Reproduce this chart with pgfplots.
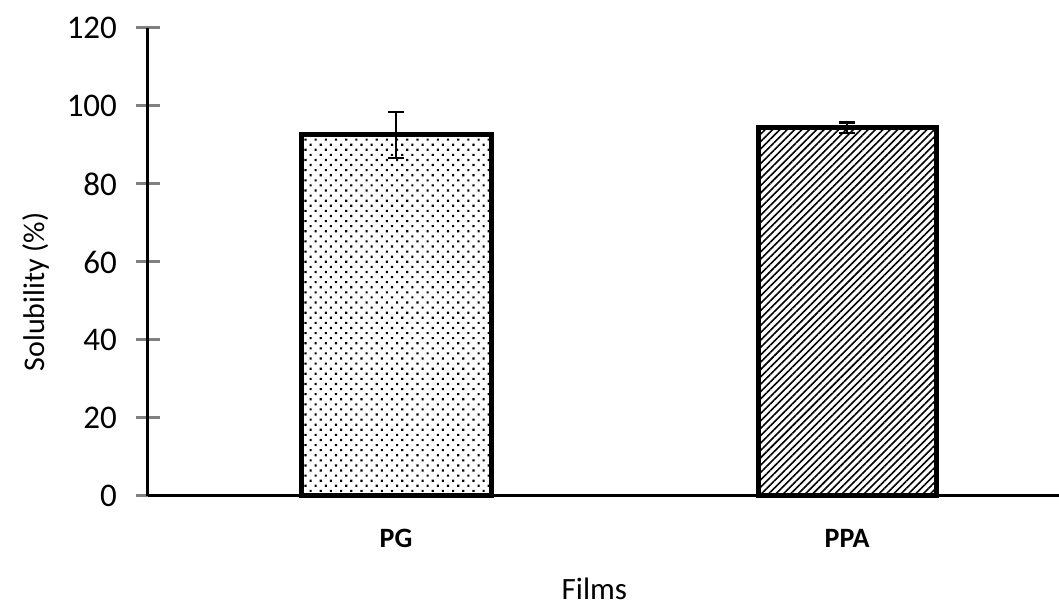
\documentclass[border=0pt]{standalone}
\usepackage{pgfplots}
\pgfplotsset{compat=1.18}
\usepackage{fontspec}
\setmainfont{Carlito}
\usetikzlibrary{patterns.meta}
\begin{document}
\begin{tikzpicture}
\useasboundingbox (-74pt,-56pt) rectangle (455.5pt,248pt);
\begin{axis}[
  at={(0,0)}, anchor=south west,
  width=455.5pt, height=234pt, scale only axis,
  xmin=0.45, xmax=2.47, ymin=0, ymax=120,
  axis lines=left, axis line style={-, line width=1.5pt},
  xtick={1,2}, xticklabels={\textbf{PG},\textbf{PPA}},
  xtick style={draw=none},
  ytick={0,20,...,120},
  ytick style={line width=1.5pt}, tick align=center,
  major tick length=12pt,
  /pgf/number format/assume math mode=true,
  yticklabel style={font=\fontsize{16.5}{19}\selectfont, xshift=-6pt},
  xticklabel style={font=\fontsize{14}{16}\selectfont, yshift=-7pt},
  ylabel={Solubility (\%)}, xlabel={Films},
  ylabel style={at={(axis description cs:-0.123,0.436)}, anchor=center, font=\fontsize{15}{18}\selectfont},
  xlabel style={at={(axis description cs:0.49,-0.198)}, anchor=center, font=\fontsize{15.5}{18}\selectfont},
  clip=false,
]
\addplot[ybar, bar shift=0pt, bar width=95pt, draw=black, line width=2.5pt,
  pattern={Dots[distance=3.6pt, angle=45, radius=0.75pt]}, pattern color=black,
  error bars/.cd, y dir=both, y explicit,
  error bar style={line width=1.3pt, black},
  error mark options={rotate=90, mark size=4pt, line width=1.3pt, black}]
  coordinates {(1,92.6) +- (0,5.9)};
\addplot[ybar, bar shift=0pt, bar width=89pt, draw=black, line width=2.5pt,
  pattern={Lines[distance=2.6pt, angle=45, line width=0.8pt]}, pattern color=black,
  error bars/.cd, y dir=both, y explicit,
  error bar style={line width=1.3pt, black},
  error mark options={rotate=90, mark size=3.8pt, line width=1.3pt, black}]
  coordinates {(2,94.4) +- (0,1.3)};
\end{axis}
\end{tikzpicture}
\end{document}
